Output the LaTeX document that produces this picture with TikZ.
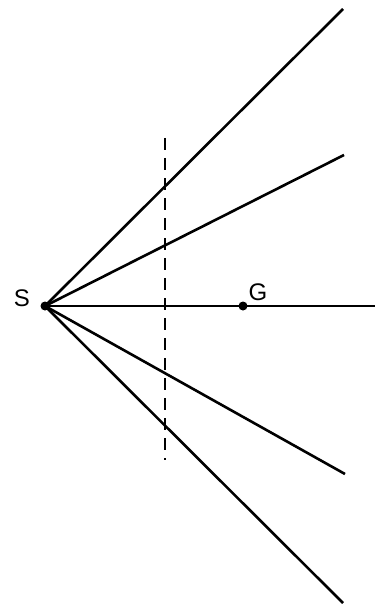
\documentclass[tikz,border=0pt]{standalone}
\usepackage{fontspec}
\setmainfont{Liberation Sans}
\begin{document}
\begin{tikzpicture}[x=1pt,y=-1pt,
  ray/.style={line width=2.6pt},
  guide/.style={line width=2.6pt,dash pattern=on 12pt off 8pt},
  dotnode/.style={circle,fill=black,inner sep=0pt,minimum size=9pt},
  lbl/.style={font=\fontsize{24}{24}\selectfont,inner sep=0pt}]
\useasboundingbox (0,0) rectangle (382,604);
\node[dotnode] (S) at (45,306) {};
\node[dotnode] (G) at (243,306) {};
\node[lbl] (Sl) at (22,298) {S};
\node[lbl] (Gl) at (258,292) {G};
\coordinate (e1) at (343,9);
\coordinate (e2) at (344,155);
\coordinate (e3) at (375,306);
\coordinate (e4) at (345,474);
\coordinate (e5) at (343,603);
\coordinate (dt) at (165,138);
\coordinate (db) at (165,460);
\draw[ray] (S.center) -- (e1);
\draw[ray] (S.center) -- (e2);
\draw[ray] (S.center) -- (e3);
\draw[ray] (S.center) -- (e4);
\draw[ray] (S.center) -- (e5);
\draw[guide] (dt) -- (db);
\end{tikzpicture}
\end{document}
